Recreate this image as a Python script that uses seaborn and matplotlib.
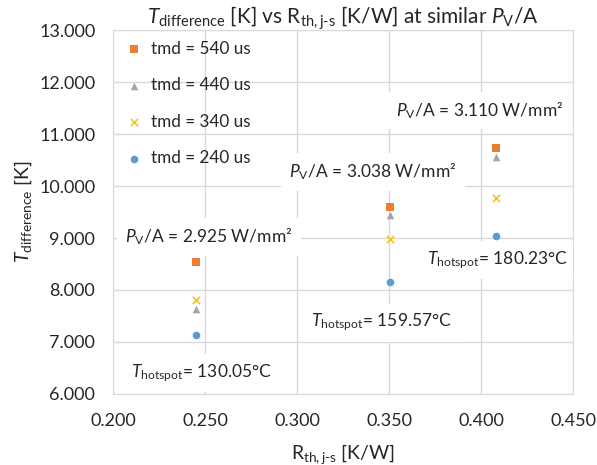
import matplotlib.pyplot as plt
import pandas as pd
import seaborn as sns

# values
rth = [0.245, 0.3505, 0.408]
tmd_labels = ["tmd = 540 us", "tmd = 440 us", "tmd = 340 us", "tmd = 240 us"]
t_540 = [8.54, 9.59, 10.73]
t_440 = [7.64, 9.44, 10.55]
t_340 = [7.80, 8.98, 9.77]
t_240 = [7.13, 8.15, 9.04]
pv_labels = ["2.925", "3.038", "3.110"]
hotspot_labels = ["130.05", "159.57", "180.23"]

colors = ["#ED7D31", "#A5A5A5", "#FFC000", "#5B9BD5"]
markers = ["s", "^", "x", "o"]

rows = []
for lab, vals in zip(tmd_labels, [t_540, t_440, t_340, t_240]):
    for x, y in zip(rth, vals):
        rows.append({"rth": x, "tdiff": y, "tmd": lab})
df = pd.DataFrame(rows)

sns.set_style("white")
plt.rcParams["font.family"] = ["Lato", "DejaVu Sans"]
plt.rcParams["mathtext.fontset"] = "custom"
plt.rcParams["mathtext.rm"] = "Lato"
plt.rcParams["mathtext.it"] = "Lato:italic"

fig = plt.figure(figsize=(5.97, 4.65), dpi=100)
ax = fig.add_axes([0.19, 0.153, 0.77, 0.782])

# one call per series so the thin "x" marker can sit next to filled ones
for lab, c, m in zip(tmd_labels, colors, markers):
    sub = df[df["tmd"] == lab]
    if m == "x":
        sns.scatterplot(data=sub, x="rth", y="tdiff", color=c, marker=m, s=28,
                        linewidth=1.1, label=lab, ax=ax, zorder=3)
    else:
        sns.scatterplot(data=sub, x="rth", y="tdiff", color=c, marker=m, s=30,
                        linewidth=0, label=lab, ax=ax, zorder=3)

ax.set_xlim(0.2, 0.45)
ax.set_ylim(6, 13)
ax.set_xticks([0.2, 0.25, 0.3, 0.35, 0.4, 0.45])
ax.set_xticklabels([f"{v:.3f}" for v in ax.get_xticks()])
ax.set_yticks(range(6, 14))
ax.set_yticklabels([f"{v:.3f}" for v in range(6, 14)])
ax.tick_params(axis="y", labelsize=13, length=0, pad=13)
ax.tick_params(axis="x", labelsize=13, length=0, pad=14)
ax.grid(True, color="#D9D9D9", linewidth=1)
ax.set_axisbelow(True)
for s in ax.spines.values():
    s.set_color("#D9D9D9")

ax.set_xlabel(r"R$_\mathrm{th,j\text{-}s}$ [K/W]", fontsize=14, labelpad=9)
ax.set_ylabel(r"$T_\mathrm{difference}$ [K]", fontsize=14, labelpad=4)
ax.set_title(r"$T_\mathrm{difference}$ [K] vs R$_\mathrm{th,j\text{-}s}$ [K/W] at similar $P_\mathrm{V}$/A",
             fontsize=15, pad=5)

leg = ax.legend(loc="upper left", frameon=False, fontsize=12.3,
                labelspacing=1.2, handlelength=1.0, handletextpad=0.5,
                borderaxespad=0.0, bbox_to_anchor=(0.011, 0.99))

box = dict(facecolor="white", edgecolor="none", pad=6)
pv_pos = [(0.252, 9.02), (0.341, 10.27), (0.399, 11.46)]
hs_pos = [(0.248, 6.40), (0.346, 7.37), (0.409, 8.58)]
for (x, y), v in zip(pv_pos, pv_labels):
    ax.text(x, y, rf"$P_\mathrm{{V}}$/A = {v} W/mm²", fontsize=12.5,
            ha="center", va="center", bbox=box, zorder=2)
for (x, y), v in zip(hs_pos, hotspot_labels):
    ax.text(x, y, rf"$T_\mathrm{{hotspot}}$= {v}°C", fontsize=12.5,
            ha="center", va="center", bbox=box, zorder=2)

fig.savefig("out.png", dpi=100)
